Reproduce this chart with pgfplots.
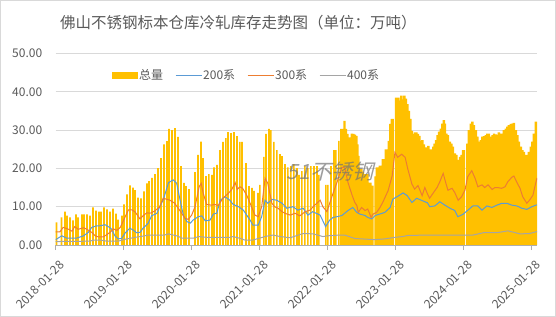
\documentclass[border=0pt]{standalone}
\usepackage{fontspec}
\setmainfont{Noto Sans CJK SC}
\usepackage{pgfplots}
\usepackage{pgfplotstable}
\pgfplotsset{compat=1.18}
\definecolor{gold}{HTML}{FFC000}
\definecolor{cb}{HTML}{5B9BD5}
\definecolor{co}{HTML}{ED7D31}
\definecolor{cg}{HTML}{A5A5A5}
\definecolor{txt}{HTML}{595959}
\definecolor{gridc}{HTML}{D9D9D9}

% t = years since 2018-01-28
% total, sparse period (bars with gaps)
\pgfplotstableread{
t v
0.012 5.9
0.085 7.2
0.137 8.7
0.166 7.7
0.210 7.2
0.254 6.4
0.299 8.0
0.328 7.2
0.387 8.0
0.416 8.0
0.460 8.0
0.504 7.7
0.549 9.8
0.593 9.0
0.637 8.7
0.666 8.7
0.710 9.8
0.754 9.3
0.799 8.7
0.843 9.5
0.887 8.2
0.916 6.6
0.975 7.7
1.004 10.6
1.049 13.2
1.093 15.6
1.137 15.0
1.166 14.3
1.210 12.4
1.254 12.2
1.299 14.0
1.343 16.1
1.372 16.7
1.416 17.5
1.460 18.5
1.504 20.1
1.549 22.7
1.593 26.3
1.637 27.1
1.666 30.3
1.710 30.0
1.754 30.5
1.799 28.2
1.843 20.6
1.887 16.2
1.916 15.4
1.960 14.6
2.049 19.0
2.093 23.5
2.137 27.0
2.166 22.7
2.210 18.0
2.254 18.5
2.299 18.3
2.328 20.3
2.372 20.9
2.416 24.8
2.460 26.9
2.504 27.9
2.534 29.5
2.578 29.2
2.622 29.5
2.666 28.4
2.710 26.9
2.740 26.9
2.799 21.4
2.843 15.4
2.887 14.9
2.916 14.1
2.975 13.6
3.004 15.7
3.063 23.0
3.093 29.0
3.137 30.3
3.166 30.0
3.210 26.9
3.254 24.8
3.299 23.7
3.328 23.2
3.372 21.1
3.416 20.3
3.460 20.6
3.504 21.1
3.549 20.1
3.578 18.3
3.622 19.3
3.666 20.6
3.710 20.1
3.754 20.6
3.799 20.6
3.843 20.6
3.872 18.3
3.975 15.7
4.004 15.7
4.049 20.6
4.093 24.8
4.122 24.8
4.166 27.2
}\totalA

% total, weekly period
\pgfplotstableread{
t v
4.201 30.3
4.225 30.3
4.247 32.4
4.269 30.3
4.291 29.0
4.313 28.1
4.335 28.1
4.357 29.1
4.379 29.0
4.401 28.8
4.424 28.5
4.438 26.3
4.453 23.3
4.475 19.8
4.497 19.8
4.519 19.1
4.541 18.5
4.563 18.5
4.585 18.5
4.607 16.3
4.629 16.3
4.645 15.5
4.660 15.5
4.705 17.9
4.722 20.3
4.744 20.3
4.766 20.7
4.788 20.7
4.810 22.4
4.832 22.4
4.854 25.0
4.876 25.0
4.901 27.2
4.922 31.6
4.942 32.9
4.958 32.9
5.005 38.5
5.022 38.5
5.041 38.5
5.063 37.7
5.085 39.0
5.107 38.0
5.129 39.0
5.151 38.2
5.174 36.8
5.196 35.0
5.218 32.9
5.240 29.8
5.262 29.0
5.284 29.4
5.306 29.4
5.328 29.0
5.350 28.5
5.372 27.2
5.394 27.4
5.416 26.3
5.438 25.5
5.460 25.5
5.482 25.9
5.500 25.0
5.519 24.3
5.536 25.0
5.553 25.7
5.573 26.5
5.593 27.4
5.615 28.7
5.637 29.6
5.666 30.4
5.688 31.7
5.710 32.6
5.725 31.7
5.747 29.1
5.769 28.7
5.799 27.0
5.821 26.5
5.843 25.7
5.872 23.9
5.894 23.5
5.916 22.2
5.946 23.0
5.968 23.5
5.990 24.8
6.007 24.8
6.056 26.5
6.078 30.0
6.107 31.7
6.129 32.2
6.151 31.3
6.181 30.0
6.203 28.3
6.225 27.0
6.254 27.4
6.276 28.3
6.299 28.4
6.328 28.7
6.350 29.1
6.372 29.1
6.401 28.3
6.424 28.7
6.446 29.1
6.475 28.9
6.497 28.7
6.519 29.4
6.549 29.1
6.571 29.1
6.593 30.0
6.622 30.4
6.644 30.9
6.666 31.3
6.696 31.6
6.718 31.7
6.740 31.9
6.769 30.0
6.791 28.7
6.813 27.0
6.843 25.7
6.865 24.8
6.887 24.3
6.916 23.5
6.938 23.5
6.960 24.3
6.990 25.7
7.012 27.0
7.034 29.1
7.063 32.2
}\totalB

\pgfplotstableread{
t v
0.00 1.4
0.09 2.4
0.16 1.8
0.31 1.8
0.41 2.4
0.48 3.3
0.53 4.6
0.60 5.0
0.65 5.0
0.725 5.3
0.774 4.8
0.82 4.2
0.87 2.4
0.92 1.6
0.97 1.7
1.02 3.1
1.09 4.4
1.14 3.9
1.19 3.2
1.24 3.3
1.29 4.5
1.31 4.8
1.36 5.7
1.41 7.6
1.49 8.3
1.53 10.0
1.58 11.7
1.66 16.3
1.73 17.0
1.78 16.1
1.83 11.7
1.88 7.6
1.93 6.1
1.98 5.7
2.02 6.5
2.10 7.4
2.15 7.6
2.20 6.3
2.27 6.5
2.32 8.1
2.37 8.3
2.42 11.7
2.49 12.6
2.56 11.7
2.61 10.6
2.69 10.0
2.76 9.1
2.86 6.5
2.90 5.2
2.98 5.2
3.03 7.4
3.08 11.7
3.12 10.9
3.18 11.9
3.25 11.7
3.33 10.9
3.40 9.6
3.49 10.0
3.56 9.1
3.64 9.6
3.71 7.8
3.78 8.7
3.89 7.8
3.97 4.8
4.03 6.5
4.08 7.2
4.14 7.4
4.21 7.7
4.30 9.0
4.37 9.8
4.43 8.5
4.47 8.1
4.55 7.7
4.59 7.2
4.65 6.8
4.70 7.7
4.77 8.1
4.84 8.5
4.92 9.8
4.96 12.0
5.03 12.7
5.11 13.6
5.17 12.9
5.24 11.1
5.31 12.2
5.39 11.6
5.47 11.0
5.50 10.0
5.577 10.2
5.65 11.3
5.725 10.4
5.80 9.6
5.87 9.0
5.916 7.4
5.99 8.0
6.063 9.1
6.137 10.2
6.21 10.2
6.27 9.1
6.343 10.2
6.416 9.8
6.49 10.4
6.563 10.9
6.637 10.9
6.71 10.4
6.784 10.2
6.857 9.6
6.93 9.3
7.004 10.0
7.063 10.4
7.08 10.5
}\sA

\pgfplotstableread{
t v
0.00 3.4
0.06 3.4
0.11 4.6
0.19 4.1
0.24 3.6
0.28 4.8
0.33 4.1
0.41 4.5
0.46 4.1
0.53 3.3
0.58 2.4
0.63 2.1
0.70 2.1
0.75 2.7
0.80 3.3
0.85 4.2
0.90 3.8
0.95 4.6
1.02 7.3
1.07 9.2
1.12 9.2
1.17 8.6
1.24 6.8
1.29 7.7
1.34 8.4
1.39 8.3
1.46 8.9
1.53 10.0
1.58 12.2
1.68 11.7
1.75 10.9
1.83 8.9
1.90 7.0
1.95 6.7
2.00 7.8
2.05 10.0
2.11 15.2
2.14 16.1
2.17 13.5
2.22 10.6
2.29 10.4
2.34 10.6
2.39 10.3
2.46 12.2
2.54 13.5
2.59 14.5
2.64 16.3
2.67 14.5
2.71 15.2
2.75 14.8
2.81 13.0
2.86 10.9
2.93 7.8
2.98 7.4
3.03 10.0
3.08 17.4
3.12 16.1
3.18 10.9
3.22 10.0
3.27 9.6
3.33 8.7
3.37 8.3
3.45 7.8
3.52 8.3
3.59 7.6
3.67 8.7
3.74 9.1
3.81 10.4
3.89 11.7
3.93 10.0
3.99 8.7
4.03 10.9
4.08 13.5
4.14 16.5
4.21 20.3
4.25 20.3
4.30 16.3
4.36 13.0
4.40 11.1
4.43 10.3
4.45 8.5
4.50 9.8
4.55 9.0
4.59 9.4
4.64 7.2
4.67 8.1
4.72 8.5
4.77 9.8
4.81 11.1
4.89 14.2
4.95 18.1
4.99 24.2
5.03 22.9
5.09 23.7
5.14 22.9
5.18 19.8
5.24 15.9
5.28 14.6
5.33 15.5
5.39 12.9
5.43 15.0
5.47 13.3
5.50 12.2
5.55 13.5
5.61 15.0
5.65 16.5
5.70 18.7
5.74 16.1
5.77 14.3
5.83 14.8
5.87 13.7
5.92 11.7
5.97 12.6
6.02 14.3
6.06 17.8
6.12 19.4
6.17 17.4
6.21 15.2
6.27 15.7
6.31 15.0
6.36 15.7
6.42 14.5
6.46 15.0
6.50 15.0
6.56 14.8
6.61 15.2
6.65 16.5
6.71 17.7
6.74 18.0
6.78 16.5
6.83 14.8
6.87 12.6
6.93 10.9
6.97 11.7
7.02 13.0
7.06 16.1
7.08 17.5
}\sB

\pgfplotstableread{
t v
0.00 0.9
0.50 1.0
0.56 1.3
0.66 1.3
0.75 1.0
0.92 1.0
1.02 1.5
1.17 2.0
1.31 2.4
1.35 2.6
1.60 2.6
1.66 2.9
1.80 2.3
1.85 1.8
2.03 1.8
2.10 2.2
2.22 2.0
2.56 2.0
2.61 2.2
2.72 1.7
2.78 1.3
2.90 1.3
2.98 1.7
3.10 2.3
3.20 2.6
3.30 2.2
3.45 1.9
3.64 3.0
3.79 2.9
3.93 2.2
4.00 2.4
4.18 2.6
4.25 2.6
4.40 1.7
4.59 1.5
4.70 1.4
4.84 1.6
4.99 2.0
5.10 2.2
5.18 2.5
5.50 2.6
5.99 2.6
6.14 2.6
6.29 3.2
6.49 3.2
6.65 3.7
6.72 3.4
6.83 2.9
6.97 3.0
7.08 3.5
}\sC

\begin{document}
\begin{tikzpicture}
\begin{axis}[
  at={(55.7bp,72bp)}, anchor=south west,
  width=481.3bp, height=191.5bp, scale only axis,
  xmin=0, xmax=7.08, ymin=0, ymax=50,
  ytick={0,10,...,50},
  xtick={0,1,2,3,4,5,6,7},
  xticklabels={2018-01-28,2019-01-28,2020-01-28,2021-01-28,2022-01-28,2023-01-28,2024-01-28,2025-01-28},
  ymajorgrids, grid style={draw=gridc, line width=0.75bp},
  axis x line*=bottom, axis y line*=left,
  y axis line style={draw=none},
  x axis line style={draw=gridc!80!black, line width=0.75bp},
  ytick style={draw=none},
  xtick style={draw=gridc!80!black, line width=0.75bp},
  tick align=outside, major tick length=5bp,
  /pgf/number format/assume math mode=true,
  /pgf/number format/fixed,
  /pgf/number format/fixed zerofill,
  /pgf/number format/precision=2,
  yticklabel style={font=\fontsize{12bp}{14bp}\selectfont, text=txt, xshift=-5bp},
  xticklabel style={font=\fontsize{12bp}{14bp}\selectfont, text=txt, inner sep=0pt, xshift=6.5bp, yshift=-13bp, rotate=45, anchor=east},
  legend style={at={(0.117,0.885)}, anchor=west, draw=none, fill=none, inner sep=0pt,
    font=\fontsize{12bp}{14bp}\selectfont, text=txt,
    /tikz/every even column/.append style={column sep=11bp},
    nodes={inner sep=1bp}},
  legend columns=4,
  clip=true,
]
\addplot[ybar, bar width=0.024, fill=gold, draw=none,
  legend image code/.code={\fill[gold] (0bp,-3.5bp) rectangle (26bp,3.5bp);}] table[x=t,y=v] {\totalA};
\addlegendentry{总量}
\addplot[ybar, bar width=0.034, fill=gold, draw=none, forget plot] table[x=t,y=v] {\totalB};
\addplot[cb, line width=1bp, mark=none,
  legend image code/.code={\draw[cb, line width=1bp] (0bp,0bp) -- (26bp,0bp);}] table[x=t,y=v] {\sA};
\addlegendentry{200系}
\addplot[co, line width=1bp, mark=none,
  legend image code/.code={\draw[co, line width=1bp] (0bp,0bp) -- (26bp,0bp);}] table[x=t,y=v] {\sB};
\addlegendentry{300系}
\addplot[cg, line width=1bp, mark=none,
  legend image code/.code={\draw[cg, line width=1bp] (0bp,0bp) -- (26bp,0bp);}] table[x=t,y=v] {\sC};
\addlegendentry{400系}
\end{axis}
\node[anchor=west, text=txt, inner sep=0pt, font=\fontsize{15.5bp}{18bp}\selectfont] at (60bp,294bp) {佛山不锈钢标本仓库冷轧库存走势图（单位：万吨）};
\node[text=black!55, opacity=0.7, xslant=0.25, inner sep=0pt, font=\fontsize{21bp}{24bp}\selectfont] at (332bp,145bp) {51不锈钢};
\pgfresetboundingbox
\path[use as bounding box] (0,0) rectangle (556bp,317bp);
\draw[gridc, line width=0.75bp] (0.4bp,0.4bp) rectangle (555.6bp,316.6bp);
\end{tikzpicture}
\end{document}
